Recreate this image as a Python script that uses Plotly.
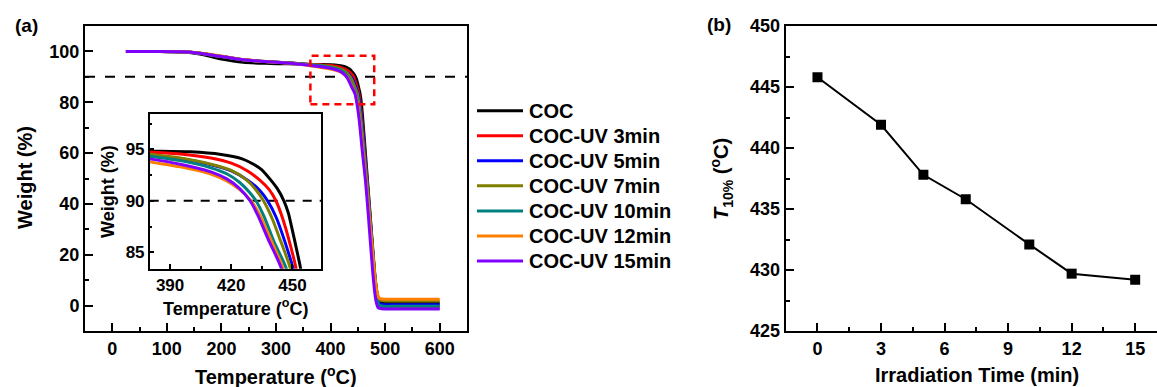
import plotly.graph_objects as go

FIG_W, FIG_H = 1157, 387
FONT = "Liberation Sans, Arial, sans-serif"

# ---- TGA curves: temperature (°C) vs. residual weight (%) ----
samples = ["COC", "COC-UV 3min", "COC-UV 5min", "COC-UV 7min",
           "COC-UV 10min", "COC-UV 12min", "COC-UV 15min"]
colors = ["#000000", "#FF0000", "#0000FF", "#808000",
          "#008080", "#FF8000", "#8000FF"]

temp_coc = [25, 80, 130, 160, 200, 240, 280, 320, 360, 380, 400, 415, 425, 430, 435, 439,
            442.5, 445.8, 448, 450, 452, 454, 457, 461, 466, 471, 476, 481, 485, 489, 495, 520, 600]
wt_coc = [100, 100, 99.8, 99.0, 97.0, 95.7, 95.3, 95.1, 94.9, 94.82, 94.75, 94.5, 94.1, 93.65, 93.0, 92.1,
          91.2, 90.0, 88.8, 87.1, 85.3, 83.4, 78.5, 68, 54, 40, 26, 12.5, 5, 1.8, 1.1, 1.0, 1.0]

temp_uv3 = [25, 80, 130, 160, 200, 240, 280, 320, 360, 380, 395, 410, 420, 428, 434, 438.5,
            441.9, 445, 448, 452, 456, 461, 466, 471, 476, 481, 485, 489, 495, 520, 600]
wt_uv3 = [100, 100, 99.9, 99.3, 98.0, 96.7, 96.0, 95.5, 95.0, 94.74, 94.55, 94.15, 93.65, 92.9, 92.0, 91.1,
          90.0, 88.4, 86.4, 83.2, 76.5, 65, 52, 38, 24, 11, 4.5, 0.3, -0.7, -0.85, -0.9]

temp_uv5 = [25, 80, 130, 160, 200, 240, 280, 320, 360, 380, 395, 410, 420, 428, 434, 437.8,
            442, 446, 450.3, 454, 458, 463, 467, 472, 477, 482, 486, 490, 497, 520, 600]
wt_uv5 = [100, 100, 99.9, 99.3, 98.0, 96.7, 96.0, 95.5, 94.9, 94.45, 94.1, 93.5, 92.9, 92.0, 91.0, 90.0,
          88.4, 86.2, 83.4, 78.5, 71, 59, 49, 36, 22, 9.5, 3, 0.8, 0.35, 0.3, 0.3]

temp_uv7 = [25, 80, 130, 160, 200, 240, 280, 320, 360, 380, 395, 410, 420, 427, 432, 435.8,
            440, 444, 449, 453, 457, 462, 467, 472, 477, 482, 486, 490, 497, 520, 600]
wt_uv7 = [100, 100, 99.9, 99.3, 98.0, 96.7, 96.0, 95.5, 94.9, 94.52, 94.15, 93.55, 92.95, 92.1, 91.1, 90.0,
          88.3, 86.2, 83.4, 78, 70.5, 59, 48, 35, 22, 10, 4, 2.3, 1.85, 1.8, 1.8]

temp_uv10 = [25, 80, 130, 160, 200, 240, 280, 320, 360, 380, 395, 410, 418, 424, 429, 432.1,
             436, 441, 447, 451, 455, 460, 466, 471, 476, 481, 485, 489, 495, 520, 600]
wt_uv10 = [100, 100, 99.9, 99.3, 98.0, 96.7, 96.0, 95.5, 94.8, 94.33, 93.9, 93.2, 92.6, 91.8, 90.8, 90.0,
           88.5, 86.0, 83.4, 78.5, 71.5, 60, 48, 35, 22, 9.5, 3, 0.2, -0.25, -0.3, -0.3]

temp_uv12 = [25, 80, 130, 160, 200, 240, 280, 320, 360, 380, 395, 410, 418, 424, 429.7,
             434, 439, 445.4, 450, 454, 459, 465, 471, 476, 481, 485, 489, 495, 520, 600]
wt_uv12 = [100, 100, 99.9, 99.4, 98.2, 96.8, 96.0, 95.4, 94.5, 93.78, 93.3, 92.6, 91.9, 91.1, 90.0,
           88.6, 86.4, 83.4, 78.5, 72, 61, 49, 35, 23, 11.5, 5.5, 3.0, 2.55, 2.5, 2.5]

temp_uv15 = [25, 80, 130, 160, 200, 240, 280, 320, 360, 380, 395, 410, 418, 424, 429.2,
             433, 438, 444.6, 449, 453, 458, 464, 469, 474, 479, 483, 487, 494, 520, 600]
wt_uv15 = [100, 100, 99.9, 99.3, 98.0, 96.7, 96.0, 95.4, 94.6, 94.07, 93.55, 92.8, 92.1, 91.2, 90.0,
           88.6, 86.3, 83.4, 78.5, 72, 61, 49, 36, 22, 9, 2, -0.8, -1.25, -1.3, -1.3]

temps = [temp_coc, temp_uv3, temp_uv5, temp_uv7, temp_uv10, temp_uv12, temp_uv15]
weights = [wt_coc, wt_uv3, wt_uv5, wt_uv7, wt_uv10, wt_uv12, wt_uv15]

# ---- T10% (temperature at 10 % weight loss) vs. irradiation time ----
irr_time = [0, 3, 5, 7, 10, 12, 15]
t10 = [445.8, 441.9, 437.8, 435.8, 432.1, 429.7, 429.2]

WEIGHT_THRESHOLD = 90              # 10 % weight loss
ZOOM_BOX = (363, 480, 79.2, 98.3)  # region magnified in the inset


def px_x(p):
    return p / FIG_W


def px_y(p):
    return 1 - p / FIG_H


fig = go.Figure()

for name, col, t, w in zip(samples, colors, temps, weights):
    fig.add_trace(go.Scatter(x=t, y=w, mode="lines", name=name,
                             line=dict(color=col, width=3, shape="spline", smoothing=0.6),
                             xaxis="x", yaxis="y", showlegend=False))
for name, col, t, w in zip(samples, colors, temps, weights):
    fig.add_trace(go.Scatter(x=t, y=w, mode="lines", name=name,
                             line=dict(color=col, width=3, shape="spline", smoothing=0.6),
                             xaxis="x2", yaxis="y2", showlegend=False))

fig.add_trace(go.Scatter(x=irr_time, y=t10, mode="lines+markers",
                         line=dict(color="black", width=2),
                         marker=dict(symbol="square", size=10, color="black"),
                         xaxis="x3", yaxis="y3", showlegend=False))


def tick_font(size):
    return dict(family=FONT, size=size, color="black", weight="bold")


axis_common = dict(showgrid=False, zeroline=False, showline=True, linecolor="black",
                   ticks="inside", tickcolor="black", tickwidth=1.5, automargin=False)


def minor(dtick, tick0, length):
    return dict(dtick=dtick, tick0=tick0, ticks="inside", ticklen=length,
                tickcolor="black", tickwidth=1.5)


main_x_dom = [px_x(85), px_x(467)]
main_y_dom = [px_y(331), px_y(26)]

fig.update_layout(
    width=FIG_W, height=FIG_H,
    margin=dict(l=0, r=0, t=0, b=0, autoexpand=False),
    paper_bgcolor="white", plot_bgcolor="rgba(0,0,0,0)",
    font=dict(family=FONT, color="black", weight="bold"),
    xaxis=dict(**axis_common, tickfont=tick_font(18), domain=main_x_dom, range=[-50, 650], anchor="y",
               tickvals=[0, 100, 200, 300, 400, 500, 600], ticklen=8, linewidth=2, mirror=True,
               minor=minor(50, 0, 4)),
    yaxis=dict(**axis_common, tickfont=tick_font(18), domain=main_y_dom, range=[-10, 110], anchor="x",
               tickvals=[0, 20, 40, 60, 80, 100], ticklen=8, linewidth=2, mirror=True,
               minor=minor(10, 0, 4)),
    xaxis2=dict(**axis_common, tickfont=tick_font(17),
                domain=[px_x(149.7), px_x(321)], range=[380, 464], anchor="y2",
                tickvals=[390, 420, 450], ticklen=5, linewidth=1.5, mirror=True,
                minor=minor(15, 390, 3)),
    yaxis2=dict(**axis_common, tickfont=tick_font(17),
                domain=[px_y(268.7), px_y(114.3)], range=[83.4, 98.4], anchor="x2",
                tickvals=[85, 90, 95], ticklen=5, linewidth=1.5, mirror=True,
                minor=minor(2.5, 85, 3)),
    xaxis3=dict(**axis_common, tickfont=tick_font(18), domain=[px_x(785.7), 1.0], range=[-1.5, 16.03],
                anchor="y3", tickvals=[0, 3, 6, 9, 12, 15], ticklen=8, linewidth=2, mirror=True,
                minor=minor(1.5, 0, 4)),
    yaxis3=dict(**axis_common, tickfont=tick_font(18), domain=main_y_dom, range=[425, 450], anchor="x3",
                tickvals=[425, 430, 435, 440, 445, 450], ticklen=8, linewidth=2, mirror=False,
                minor=minor(2.5, 425, 4)),
)

# 10 % weight-loss reference lines
fig.add_shape(type="line", xref="x domain", yref="y", x0=0, x1=1,
              y0=WEIGHT_THRESHOLD, y1=WEIGHT_THRESHOLD, layer="below",
              line=dict(color="black", width=2, dash="10px,10px"))
fig.add_shape(type="line", xref="x2 domain", yref="y2", x0=0, x1=1,
              y0=WEIGHT_THRESHOLD, y1=WEIGHT_THRESHOLD, layer="below",
              line=dict(color="black", width=2, dash="9px,8px"))

# zoomed region marker
fig.add_shape(type="rect", xref="x", yref="y",
              x0=ZOOM_BOX[0], x1=ZOOM_BOX[1], y0=ZOOM_BOX[2], y1=ZOOM_BOX[3],
              line=dict(color="#FF0000", width=2.5, dash="7px,5px"))

# legend
leg_top, leg_step = 110.7, 25.05
for i, (name, col) in enumerate(zip(samples, colors)):
    yy = px_y(leg_top + i * leg_step)
    fig.add_shape(type="line", xref="paper", yref="paper",
                  x0=px_x(477), x1=px_x(523), y0=yy, y1=yy,
                  line=dict(color=col, width=3))
    fig.add_annotation(text=name, xref="paper", yref="paper", x=px_x(527), y=yy,
                       xanchor="left", yanchor="middle", showarrow=False,
                       font=dict(family=FONT, size=20, color="black", weight="bold"))


def label(text, x, y, size, angle=0):
    fig.add_annotation(text=text, xref="paper", yref="paper", x=px_x(x), y=px_y(y),
                       xanchor="center", yanchor="middle", showarrow=False, textangle=angle,
                       font=dict(family=FONT, size=size, color="black", weight="bold"))


label("(a)", 26, 25.5, 19)
label("(b)", 719, 25, 19)
label("Temperature (<sup>o</sup>C)", 276, 375, 20)
label("Weight (%)", 25, 178, 20, -90)
label("Temperature (<sup>o</sup>C)", 235, 307, 18)
label("Weight (%)", 107.3, 191.7, 18, -90)
label("Irradiation Time (min)", 977, 375, 20)
label("<i>T</i><sub>10%</sub> (<sup>o</sup>C)", 721, 179, 20, -90)

fig.write_html("out.html")
